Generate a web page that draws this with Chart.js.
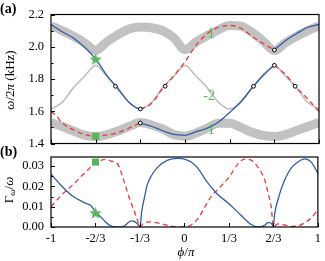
<!DOCTYPE html>
<html><head><meta charset="utf-8">
<script src="https://cdn.jsdelivr.net/npm/chart.js@4.4.1/dist/chart.umd.min.js"></script>
<style>
html,body{margin:0;padding:0;background:#fff;}
body{width:325px;height:261px;position:relative;overflow:hidden;}
#ca{position:absolute;left:0;top:0;}
#cb{position:absolute;left:0;top:140px;}
</style></head><body>
<canvas id="ca" width="325" height="158"></canvas>
<canvas id="cb" width="325" height="121"></canvas>
<script>
// ---------------- data ----------------
const phiTicks = [-1, -2/3, -1/3, 0, 1/3, 2/3, 1];
const phiTickLabels = ['-1', '-2/3', '-1/3', '0', '1/3', '2/3', '1'];
const omegaTicks = [1.4, 1.6, 1.8, 2.0, 2.2];
const omegaTickLabels = ['1.4', '1.6', '1.8', '2.0', '2.2'];
const omegaMinorTicks = [1.5, 1.7, 1.9, 2.1];
const gammaTicks = [0, 0.01, 0.02, 0.03];
const gammaTickLabels = ['0.00', '0.01', '0.02', '0.03'];
const gammaMinorTicks = [0.005, 0.015, 0.025];

const phiGrid = [-1, -11/12, -10/12, -9/12, -8/12, -7/12, -6/12, -5/12, -4/12, -3/12, -2/12, -1/12, 0,
                 1/12, 2/12, 3/12, 4/12, 5/12, 6/12, 7/12, 8/12, 9/12, 10/12, 11/12, 1];
// band "1" (upper), thick gray
const bandUpper = [2.13, 2.10, 2.065, 2.025, 1.978, 2.03, 2.075, 2.11, 2.122, 2.118, 2.10, 2.055, 1.982,
                   2.03, 2.07, 2.105, 2.132, 2.128, 2.09, 2.035, 1.976, 2.025, 2.065, 2.10, 2.13];
// band "-2" (middle), thin gray
const bandMiddle = [1.614, 1.655, 1.745, 1.817, 1.885, 1.817, 1.745, 1.655, 1.614, 1.655, 1.745, 1.817, 1.885,
                    1.817, 1.745, 1.655, 1.614, 1.655, 1.745, 1.817, 1.885, 1.817, 1.745, 1.655, 1.614];
// band "1" (lower), thick gray
const bandLower = [1.53, 1.505, 1.478, 1.452, 1.443, 1.455, 1.478, 1.505, 1.53, 1.515, 1.49, 1.455, 1.445,
                   1.465, 1.495, 1.525, 1.525, 1.50, 1.47, 1.45, 1.443, 1.455, 1.48, 1.505, 1.53];

// mode A
const aBlueLeftPhi = [-1, -11/12, -10/12, -9/12, -8/12, -7/12, -6/12, -5/12, -4/12, -0.31];
const aBlueLeftOmega = [2.138, 2.093, 2.054, 1.997, 1.924, 1.823, 1.738, 1.654, 1.614, 1.618];
const aRedPhi = [-4/12, -3/12, -2/12, -1/12, 0, 1/12, 2/12, 3/12, 4/12, 5/12, 6/12, 7/12, 8/12];
const aRedOmega = [1.614, 1.648, 1.742, 1.819, 1.907, 2.01, 2.082, 2.121, 2.132, 2.115, 2.065, 2.02, 1.98];
const aBlueRightPhi = [8/12, 9/12, 10/12, 11/12, 1];
const aBlueRightOmega = [1.98, 2.037, 2.082, 2.121, 2.138];

// mode B
const bRedLeftPhi = [-1, -0.96, -11/12, -10/12, -9/12, -8/12, -7/12, -6/12, -5/12, -4/12];
const bRedLeftOmega = [1.598, 1.572, 1.528, 1.485, 1.456, 1.445, 1.453, 1.467, 1.496, 1.527];
const bBluePhi = [-4/12, -3/12, -2/12, -1/12, 0, 1/12, 2/12, 3/12, 4/12, 5/12, 6/12, 7/12, 8/12];
const bBlueOmega = [1.527, 1.507, 1.479, 1.456, 1.451, 1.473, 1.495, 1.533, 1.592, 1.659, 1.744, 1.825, 1.885];
const bRedRightPhi = [8/12, 9/12, 10/12, 11/12, 1];
const bRedRightOmega = [1.885, 1.828, 1.744, 1.676, 1.598];

// open circles
const circlePhi = [-0.519, -1/3, -0.148, -1/3, 0.511, 2/3, 0.822, 2/3];
const circleOmega = [1.755, 1.614, 1.755, 1.527, 1.755, 1.885, 1.755, 1.98];
// green markers
const starPhi = [-2/3], starOmega = [1.924], starGamma = [0.007];
const squarePhi = [-2/3], squareOmega = [1.445], squareGamma = [0.032];

// panel (b): loss rate
const gBluePhi = [-1, -11/12, -10/12, -9/12, -0.7, -8/12, -0.62, -7/12, -0.55, -0.5, -0.45, -0.4, -0.37, -0.345, -1/3,
                  -0.32, -0.3, -0.28, -0.25, -0.2, -0.125, -0.05, 0, 0.05, 0.1, 1/6, 0.25, 1/3, 0.417, 0.5, 0.55,
                  0.6, 0.62, 0.64, 0.655, 2/3, 0.675, 0.7, 0.75, 0.8, 0.85, 0.9, 0.95, 1];
const gBlue = [0.026, 0.020, 0.015, 0.012, 0.0105, 0.0075, 0.0045, 0.002, 0.0005, 0.0, 0.0005, 0.003, 0.0025, 0.001, 0,
               0.0077, 0.0145, 0.0205, 0.025, 0.0295, 0.033, 0.0338, 0.0335, 0.032, 0.029, 0.0225, 0.016, 0.0115, 0.0062, 0.0012, 0,
               0.0008, 0.002, 0.0022, 0.0015, 0, 0.006, 0.0133, 0.023, 0.029, 0.032, 0.0336, 0.032, 0.0265];
const gRedPhi = [-1, -11/12, -10/12, -9/12, -8/12, -0.62, -7/12, -0.55, -0.5, -0.45, -5/12, -0.38, -0.35, -1/3,
                 -0.3, -0.25, -0.2, -0.15, -0.1, -0.05, 0, 0.05, 0.1, 0.15, 0.2, 0.25, 1/3, 0.4, 0.45, 0.5, 0.55,
                 0.6, 0.63, 0.65, 2/3, 0.7, 0.75, 0.8, 0.85, 0.9, 0.95, 1];
const gRed = [0.010, 0.016, 0.021, 0.0265, 0.0315, 0.033, 0.0333, 0.0325, 0.031, 0.022, 0.015, 0.0085, 0.003, 0,
              0.0022, 0.0025, 0.002, 0.0012, 0.0005, 0, 0, 0.001, 0.004, 0.0095, 0.015, 0.0185, 0.0245, 0.031, 0.0335, 0.033, 0.0295,
              0.0235, 0.016, 0.010, 0, 0.0015, 0.001, 0.0003, 0.0005, 0.002, 0.0045, 0.0085];

// band labels (data coordinates)
const bandLabelText = ['1', '-2', '1'];
const bandLabelPhi = [0.196, 0.18, 0.196];
const bandLabelOmega = [2.076, 1.693, 1.479];

// ---------------- styles ----------------
const BLUE = '#2f5da8', RED = '#e8383a', GRAY = '#c2c2c2', GREEN = '#58b558';
const SERIF = '"Liberation Serif", "DejaVu Serif", serif';
const DASH = [5, 3.5];

const pts = (xs, ys) => xs.map((x, i) => ({x: x, y: ys[i]}));

function starCanvas(size, color) {
  const c = document.createElement('canvas'); c.width = c.height = size;
  const g = c.getContext('2d'); g.fillStyle = color; g.beginPath();
  const cx = size / 2, cy = size / 2 + 0.6, R = size / 2, r = R * 0.42;
  for (let i = 0; i < 10; i++) {
    const a = -Math.PI / 2 + i * Math.PI / 5, rr = i % 2 ? r : R;
    g.lineTo(cx + rr * Math.cos(a), cy + rr * Math.sin(a));
  }
  g.closePath(); g.fill(); return c;
}
const STAR = starCanvas(13, GREEN);

function lineDS(data, color, width, dash, order) {
  return {data: data, borderColor: color, borderWidth: width, borderDash: dash || [],
          pointRadius: 0, fill: false, cubicInterpolationMode: 'monotone', order: order,
          borderCapStyle: 'butt', borderJoinStyle: 'round'};
}
function markerDS(data, style, radius, bg, border, bw, order) {
  return {data: data, showLine: false, pointStyle: style, pointRadius: radius, pointBackgroundColor: bg,
          pointBorderColor: border, pointBorderWidth: bw, order: order};
}

function drawRuns(ctx, runs, cx, cy, rot) {
  ctx.save(); ctx.translate(cx, cy); ctx.rotate(rot || 0);
  let total = 0;
  runs.forEach(r => { ctx.font = r.font; r.w = ctx.measureText(r.t).width; total += r.w; });
  let x = -total / 2; ctx.textBaseline = 'middle'; ctx.textAlign = 'left'; ctx.fillStyle = '#000';
  runs.forEach(r => { ctx.font = r.font; ctx.fillText(r.t, x, r.dy || 0); x += r.w; });
  ctx.restore();
}

const frameTicks = {
  id: 'frameTicks',
  afterDatasetsDraw(chart, args, o) {
    const {ctx, chartArea: a, scales} = chart;
    const xs = scales.x, ys = scales.y;
    ctx.save(); ctx.strokeStyle = '#000'; ctx.lineWidth = 1;
    ctx.beginPath();
    o.x.forEach(v => { const p = Math.round(xs.getPixelForValue(v)) + 0.5; ctx.moveTo(p, a.bottom); ctx.lineTo(p, a.bottom - 4); });
    o.yMajor.forEach(v => { const p = Math.round(ys.getPixelForValue(v)) + 0.5; ctx.moveTo(a.left, p); ctx.lineTo(a.left + 4, p); });
    o.yMinor.forEach(v => { const p = Math.round(ys.getPixelForValue(v)) + 0.5; ctx.moveTo(a.left, p); ctx.lineTo(a.left + 2.5, p); });
    ctx.stroke();
    ctx.lineWidth = 1.2;
    ctx.strokeRect(a.left, a.top, a.right - a.left, a.bottom - a.top);
    ctx.restore();
  }
};

const textsTop = {
  id: 'textsTop',
  afterDraw(chart) {
    const ctx = chart.ctx, xs = chart.scales.x, ys = chart.scales.y;
    ctx.save();
    ctx.font = 'bold 14px ' + SERIF; ctx.fillStyle = '#000'; ctx.textBaseline = 'middle'; ctx.textAlign = 'left';
    ctx.fillText('(a)', 0, 9);
    ctx.font = '14px ' + SERIF; ctx.fillStyle = GREEN; ctx.textAlign = 'center';
    bandLabelText.forEach((t, i) => ctx.fillText(t, xs.getPixelForValue(bandLabelPhi[i]), ys.getPixelForValue(bandLabelOmega[i])));
    ctx.restore();
    drawRuns(ctx, [
      {t: 'ω', font: 'italic 13px ' + SERIF}, {t: '/2', font: '13px ' + SERIF},
      {t: 'π', font: 'italic 13px ' + SERIF}, {t: ' (kHz)', font: '13px ' + SERIF}
    ], 11, 80, -Math.PI / 2);
  }
};
const textsBottom = {
  id: 'textsBottom',
  afterDraw(chart) {
    const ctx = chart.ctx;
    ctx.save();
    ctx.font = 'bold 14px ' + SERIF; ctx.fillStyle = '#000'; ctx.textBaseline = 'middle'; ctx.textAlign = 'left';
    ctx.fillText('(b)', 0, 12);
    ctx.restore();
    drawRuns(ctx, [
      {t: 'Γ', font: '13px ' + SERIF}, {t: 'ω', font: 'italic 9px ' + SERIF, dy: 3},
      {t: '/', font: '13px ' + SERIF}, {t: 'ω', font: 'italic 13px ' + SERIF}
    ], 10, 50, -Math.PI / 2);
    drawRuns(ctx, [
      {t: 'ϕ', font: 'italic 13px ' + SERIF}, {t: '/', font: '13px ' + SERIF}, {t: 'π', font: 'italic 13px ' + SERIF}
    ], 186, 113, 0);
  }
};

const tickFont = {family: SERIF, size: 12.5};
const common = {
  responsive: false, maintainAspectRatio: false, animation: false, events: [],
  plugins: {legend: {display: false}, tooltip: {enabled: false}}
};

// ---------------- panel (a) ----------------
new Chart(document.getElementById('ca'), {
  type: 'line',
  data: {datasets: [
    markerDS(pts(starPhi, starOmega), STAR, 6, GREEN, GREEN, 0, 0),
    markerDS(pts(squarePhi, squareOmega), 'rect', 5, GREEN, GREEN, 0, 0),
    markerDS(pts(circlePhi, circleOmega), 'circle', 1.9, '#fff', '#000', 1, 1),
    lineDS(pts(aBlueLeftPhi, aBlueLeftOmega), BLUE, 1.3, null, 3),
    lineDS(pts(aRedPhi, aRedOmega), RED, 1.3, DASH, 3),
    lineDS(pts(aBlueRightPhi, aBlueRightOmega), BLUE, 1.3, null, 3),
    lineDS(pts(bRedLeftPhi, bRedLeftOmega), RED, 1.3, DASH, 3),
    lineDS(pts(bBluePhi, bBlueOmega), BLUE, 1.3, null, 3),
    lineDS(pts(bRedRightPhi, bRedRightOmega), RED, 1.3, DASH, 3),
    lineDS(pts(phiGrid, bandMiddle), GRAY, 1.7, null, 8),
    lineDS(pts(phiGrid, bandUpper), GRAY, 9, null, 9),
    lineDS(pts(phiGrid, bandLower), GRAY, 9, null, 9)
  ]},
  options: Object.assign({}, common, {
    layout: {padding: {left: 0, right: 4, top: 6, bottom: 10}},
    scales: {
      x: {type: 'linear', min: -1, max: 1, display: false},
      y: {type: 'linear', min: 1.4, max: 2.2,
          afterFit: s => { s.width = 51; },
          afterBuildTicks: s => { s.ticks = omegaTicks.map(v => ({value: v})); },
          grid: {display: false, drawTicks: false}, border: {display: false},
          ticks: {font: tickFont, color: '#000', padding: 7, autoSkip: false,
                  callback: (v, i) => omegaTickLabels[i]}}
    },
    plugins: Object.assign({}, common.plugins, {frameTicks: {x: phiTicks, yMajor: omegaTicks, yMinor: omegaMinorTicks}})
  }),
  plugins: [frameTicks, textsTop]
});

// ---------------- panel (b) ----------------
new Chart(document.getElementById('cb'), {
  type: 'line',
  data: {datasets: [
    markerDS(pts(starPhi, starGamma), STAR, 6, GREEN, GREEN, 0, 0),
    markerDS(pts(squarePhi, squareGamma), 'rect', 5, GREEN, GREEN, 0, 0),
    lineDS(pts(gBluePhi, gBlue), BLUE, 1.3, null, 3),
    lineDS(pts(gRedPhi, gRed), RED, 1.3, DASH, 4)
  ]},
  options: Object.assign({}, common, {
    layout: {padding: {left: 0, right: 4, top: 17, bottom: 0}},
    scales: {
      x: {type: 'linear', min: -1, max: 1,
          afterFit: s => { s.height = 34; },
          afterBuildTicks: s => { s.ticks = phiTicks.map(v => ({value: v})); },
          grid: {display: false, drawTicks: false}, border: {display: false},
          ticks: {font: tickFont, color: '#000', padding: 4, autoSkip: false, maxRotation: 0,
                  callback: (v, i) => phiTickLabels[i]}},
      y: {type: 'linear', min: 0, max: 0.0345,
          afterFit: s => { s.width = 51; },
          afterBuildTicks: s => { s.ticks = gammaTicks.map(v => ({value: v})); },
          grid: {display: false, drawTicks: false}, border: {display: false},
          ticks: {font: tickFont, color: '#000', padding: 7, autoSkip: false,
                  callback: (v, i) => gammaTickLabels[i]}}
    },
    plugins: Object.assign({}, common.plugins, {frameTicks: {x: phiTicks, yMajor: gammaTicks, yMinor: gammaMinorTicks}})
  }),
  plugins: [frameTicks, textsBottom]
});
</script>
</body></html>
